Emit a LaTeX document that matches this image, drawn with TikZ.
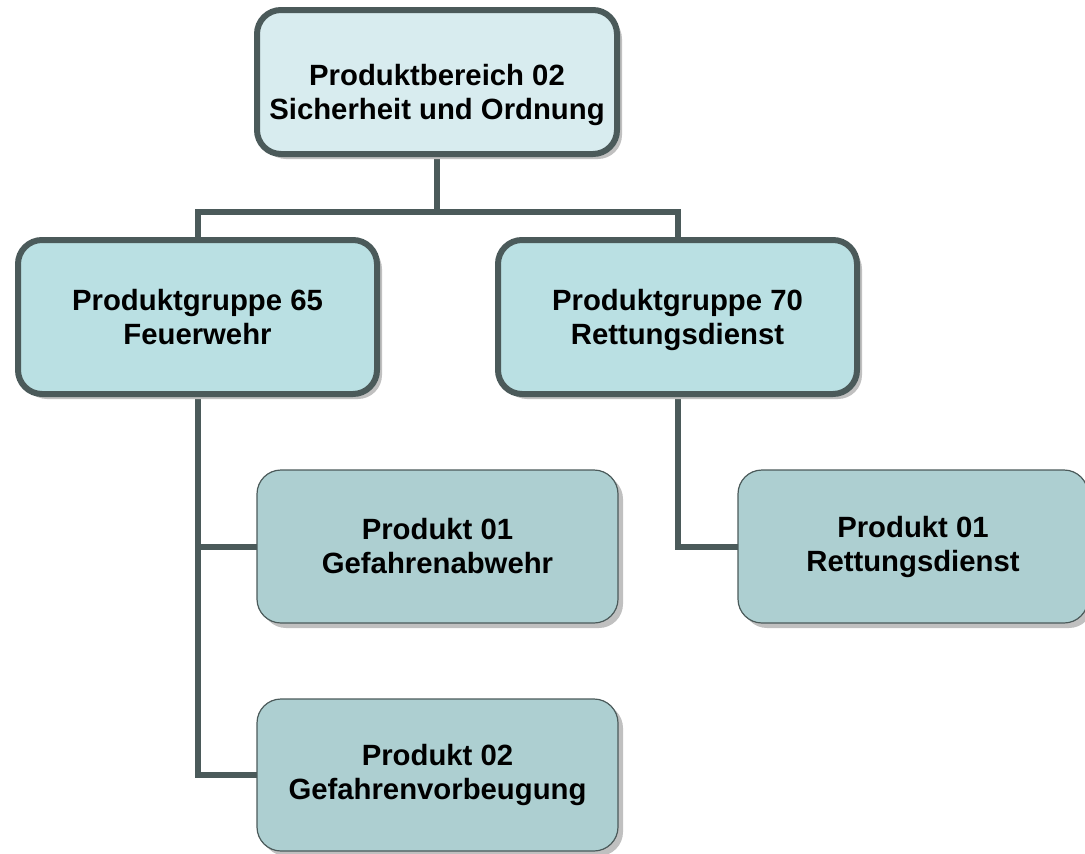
\documentclass[tikz,border=0pt]{standalone}
\usepackage{fontspec}
\setmainfont{Liberation Sans}
\usetikzlibrary{shadows}
\definecolor{lineclr}{HTML}{4B5A5A}
\definecolor{topfill}{HTML}{D8ECEF}
\definecolor{grpfill}{HTML}{BAE0E3}
\definecolor{prodfill}{HTML}{ADCFD1}
\definecolor{shadowclr}{HTML}{C0C0C0}
\newcommand{\shiftedlbl}[2]{\raisebox{#1}[0pt][0pt]{\begin{tabular}{@{}c@{}}#2\end{tabular}}}
\tikzset{
  box/.style={rounded corners=24pt, align=center, font=\fontsize{29.3}{34}\selectfont\bfseries,
    drop shadow={shadow xshift=5pt, shadow yshift=-5pt, fill=shadowclr, opacity=1}},
  heavybox/.style={box, draw=lineclr, line width=6pt},
  prodbox/.style={box, draw=lineclr, line width=1.2pt, fill=prodfill},
  conn/.style={draw=lineclr, line width=6pt}
}
\begin{document}
\begin{tikzpicture}[x=1pt,y=-1pt]
\useasboundingbox (0,0) rectangle (1085,854);
\clip (0,0) rectangle (1085,854);
\coordinate (bus) at (437,212);
% connectors
\draw[conn] (437,150) -- (bus);
\draw[conn] (197.5,300) |- (bus) -| (677.5,300);
\draw[conn] (197.5,390) |- (437.5,546.5);
\draw[conn] (197.5,390) |- (437.5,775);
\draw[conn] (677.5,390) |- (913,546.5);
% nodes
\node[heavybox, fill=topfill, minimum width=360pt, minimum height=144pt] (top) at (437,82) {\shiftedlbl{-20pt}{Produktbereich 02\\Sicherheit und Ordnung}};
\node[heavybox, fill=grpfill, minimum width=359pt, minimum height=154pt] (g65) at (197.5,317) {\shiftedlbl{-9.5pt}{Produktgruppe 65\\Feuerwehr}};
\node[heavybox, fill=grpfill, minimum width=359pt, minimum height=154pt] (g70) at (677.5,317) {\shiftedlbl{-9.5pt}{Produktgruppe 70\\Rettungsdienst}};
\node[prodbox, minimum width=361pt, minimum height=153pt] (p1) at (437.5,546.5) {Produkt 01\\Gefahrenabwehr};
\node[prodbox, minimum width=361pt, minimum height=152pt] (p2) at (437.5,775) {Produkt 02\\Gefahrenvorbeugung};
\node[prodbox, minimum width=350pt, minimum height=153pt] (pr) at (913,546.5) {Produkt 01\\Rettungsdienst};
\end{tikzpicture}
\end{document}
